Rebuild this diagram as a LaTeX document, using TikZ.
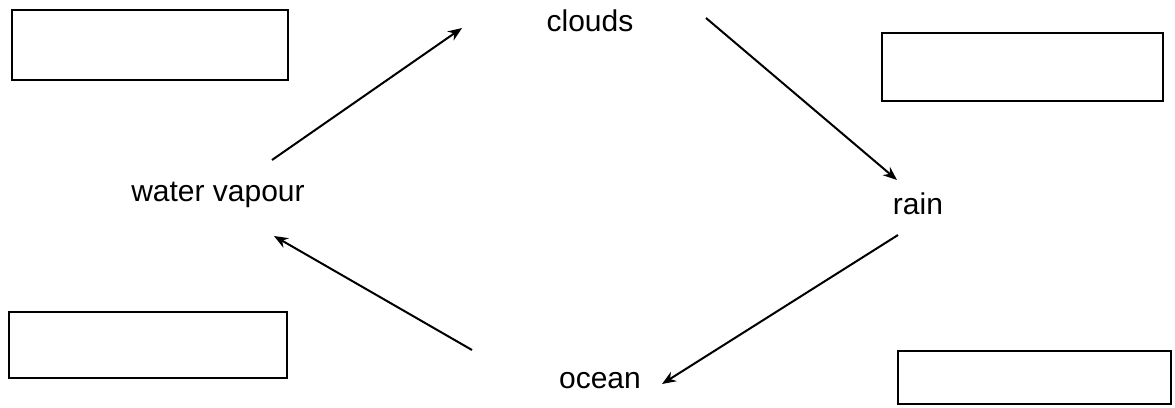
\documentclass[tikz,border=0pt]{standalone}
\usepackage{fontspec}
\setmainfont{Liberation Sans}
\usetikzlibrary{arrows.meta}
\begin{document}
\begin{tikzpicture}[x=1pt,y=-1pt,
  answerbox/.style={draw,line width=2.2pt},
  label/.style={font=\fontsize{30}{36}\selectfont,inner sep=0pt,anchor=base},
  flow/.style={line width=2pt,-{Stealth[length=14pt,width=11pt]}}]
\useasboundingbox (0,0) rectangle (1175,407);
\draw[answerbox] (12,10) rectangle (288,80) coordinate (boxA);
\draw[answerbox] (882,33) rectangle (1163,101) coordinate (boxB);
\draw[answerbox] (9,312) rectangle (287,378) coordinate (boxC);
\draw[answerbox] (898,351) rectangle (1171,404) coordinate (boxD);
\node[label] (clouds) at (590,31) {clouds};
\node[label] (vapour) at (218,201) {water vapour};
\node[label] (rain) at (918,214) {rain};
\node[label] (ocean) at (600,388) {ocean};
\coordinate (a1) at (272,160); \coordinate (a2) at (462,28);
\coordinate (b1) at (706,18); \coordinate (b2) at (897,180);
\coordinate (c1) at (898,235); \coordinate (c2) at (662,384);
\coordinate (d1) at (472,350); \coordinate (d2) at (274,236);
\draw[flow] (a1) -- (a2);
\draw[flow] (b1) -- (b2);
\draw[flow] (c1) -- (c2);
\draw[flow] (d1) -- (d2);
\end{tikzpicture}
\end{document}
